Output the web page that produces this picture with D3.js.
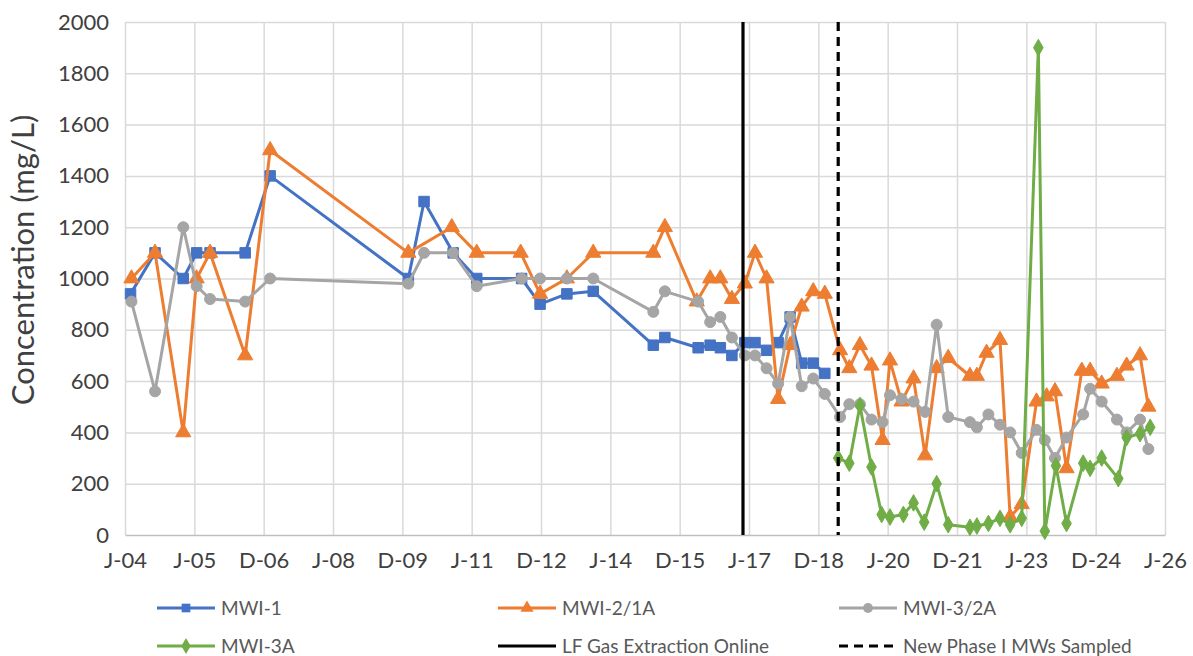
<!DOCTYPE html>
<html><head><meta charset="utf-8">
<script src="https://cdn.jsdelivr.net/npm/d3@7"></script>
<style>
body{margin:0;background:#fff;}
svg{display:block;font-family:Lato,'Open Sans',sans-serif;}
</style>
</head><body>
<svg id="chart" width="1193" height="656"></svg>
<script>
// ---- data ----
const tickLabels = ["J-04","J-05","D-06","J-08","D-09","J-11","D-12","J-14","D-15","J-17","D-18","J-20","D-21","J-23","D-24","J-26"];
const tickYears  = [2004,2005.5,2007,2008.5,2010,2011.5,2013,2014.5,2016,2017.5,2019,2020.5,2022,2023.5,2025,2026.5];
const yTicks = [0,200,400,600,800,1000,1200,1400,1600,1800,2000];

const mwi1 = [[2004.12,940],[2004.65,1100],[2005.26,1000],[2005.55,1100],[2005.84,1100],[2006.60,1100],[2007.14,1400],
  [2010.13,1000],[2010.47,1300],[2011.10,1100],[2011.61,1000],[2012.58,1000],[2012.98,900],[2013.56,940],[2014.13,950],
  [2015.43,740],[2015.68,770],[2016.40,730],[2016.66,740],[2016.88,730],[2017.13,700],[2017.41,750],[2017.63,750],
  [2017.88,720],[2018.13,750],[2018.39,850],[2018.64,670],[2018.89,670],[2019.14,630]];

const mwi2 = [[2004.14,1000],[2004.65,1100],[2005.26,400],[2005.55,1000],[2005.84,1100],[2006.60,700],[2007.14,1500],
  [2010.13,1100],[2011.07,1200],[2011.61,1100],[2012.56,1100],[2012.98,940],[2013.56,1000],[2014.13,1100],[2015.43,1100],
  [2015.68,1200],[2016.37,910],[2016.66,1000],[2016.88,1000],[2017.13,920],[2017.41,980],[2017.63,1100],[2017.88,1000],
  [2018.13,530],[2018.39,740],[2018.64,890],[2018.89,950],[2019.14,940],[2019.47,720],[2019.67,650],[2019.90,740],
  [2020.15,660],[2020.39,370],[2020.55,680],[2020.80,520],[2021.06,610],[2021.31,310],[2021.56,650],[2021.81,690],
  [2022.28,620],[2022.43,620],[2022.64,710],[2022.93,760],[2023.15,70],[2023.40,120],[2023.72,520],[2023.94,540],
  [2024.12,560],[2024.37,260],[2024.70,640],[2024.88,640],[2025.13,590],[2025.46,620],[2025.67,660],[2025.96,700],[2026.14,500]];

const mwi3 = [[2004.14,910],[2004.65,560],[2005.26,1200],[2005.55,970],[2005.84,920],[2006.60,910],[2007.14,1000],
  [2010.13,980],[2010.47,1100],[2011.10,1100],[2011.61,970],[2012.58,1000],[2012.98,1000],[2013.56,1000],[2014.13,1000],
  [2015.43,870],[2015.68,950],[2016.40,910],[2016.66,830],[2016.88,850],[2017.13,770],[2017.41,700],[2017.63,700],
  [2017.88,650],[2018.13,590],[2018.39,850],[2018.64,580],[2018.89,610],[2019.14,550],[2019.47,460],[2019.67,510],
  [2019.90,510],[2020.15,450],[2020.39,440],[2020.55,545],[2020.80,530],[2021.06,520],[2021.31,480],[2021.56,820],
  [2021.81,460],[2022.28,440],[2022.43,420],[2022.68,470],[2022.93,430],[2023.15,400],[2023.40,320],[2023.72,410],
  [2023.90,370],[2024.12,300],[2024.37,380],[2024.73,470],[2024.88,570],[2025.13,520],[2025.46,450],[2025.67,400],
  [2025.96,450],[2026.14,335]];

const mwi3a = [[2019.43,300],[2019.67,280],[2019.90,505],[2020.15,265],[2020.37,80],[2020.55,70],[2020.84,80],
  [2021.06,125],[2021.29,50],[2021.56,200],[2021.81,40],[2022.28,30],[2022.43,35],[2022.68,45],[2022.93,65],
  [2023.15,40],[2023.40,65],[2023.76,1900],[2023.90,15],[2024.14,270],[2024.37,45],[2024.73,280],[2024.88,260],
  [2025.13,300],[2025.49,220],[2025.67,380],[2025.96,395],[2026.18,420]];

const gasExtractionOnline = 2017.37;
const newPhaseSampled = 2019.43;

const series = [
  {name:"MWI-1", data:mwi1, color:"#4472C4", symbol:d3.symbolSquare, size:110},
  {name:"MWI-2/1A", data:mwi2, color:"#ED7D31", symbol:d3.symbolTriangle, size:100},
  {name:"MWI-3/2A", data:mwi3, color:"#A5A5A5", symbol:d3.symbolCircle, size:95},
  {name:"MWI-3A", data:mwi3a, color:"#70AD47", symbol:d3.symbolDiamond, size:80}
];
const events = [
  {name:"LF Gas Extraction Online", date:gasExtractionOnline, dash:null},
  {name:"New Phase I MWs Sampled", date:newPhaseSampled, dash:"9,6"}
];

// ---- layout ----
const svg = d3.select("#chart");
const L = 125, R = 1165, T = 22, B = 535;
const x = d3.scaleLinear().domain([2004, 2026.5]).range([L, R]);
const y = d3.scaleLinear().domain([0, 2000]).range([B, T]);

// gridlines
svg.append("g").attr("transform",`translate(0,${B})`)
  .call(d3.axisBottom(x).tickValues(tickYears).tickSize(-(B-T)).tickFormat(""))
  .call(g=>g.select(".domain").remove())
  .call(g=>g.selectAll("line").attr("stroke","#D9D9D9").attr("stroke-width",1.5));
svg.append("g").attr("transform",`translate(${L},0)`)
  .call(d3.axisLeft(y).tickValues(yTicks.slice(1)).tickSize(-(R-L)).tickFormat(""))
  .call(g=>g.select(".domain").remove())
  .call(g=>g.selectAll("line").attr("stroke","#D9D9D9").attr("stroke-width",1.5));

// x axis
svg.append("g").attr("transform",`translate(0,${B})`)
  .call(d3.axisBottom(x).tickValues(tickYears).tickSize(0).tickPadding(17).tickFormat((d,i)=>tickLabels[i]))
  .call(g=>g.select(".domain").attr("stroke","#BFBFBF").attr("stroke-width",1.5))
  .call(g=>g.selectAll("text").attr("font-size",22).attr("fill","#404040").attr("font-family","Lato"));

// y axis
svg.append("g").attr("transform",`translate(${L},0)`)
  .call(d3.axisLeft(y).tickValues(yTicks).tickSize(0).tickPadding(16).tickFormat(d3.format("d")))
  .call(g=>g.select(".domain").remove())
  .call(g=>g.selectAll("text").attr("font-size",22).attr("fill","#404040").attr("font-family","Lato"));

svg.append("text")
  .attr("transform",`translate(34,260) rotate(-90)`)
  .attr("text-anchor","middle").attr("font-size",31).attr("fill","#404040")
  .text("Concentration (mg/L)");

// series
const line = d3.line().x(d=>x(d[0])).y(d=>y(d[1]));
series.forEach(s=>{
  const g = svg.append("g");
  g.append("path").datum(s.data).attr("d",line)
    .attr("fill","none").attr("stroke",s.color).attr("stroke-width",3)
    .attr("stroke-linejoin","round");
  g.selectAll("path.m").data(s.data).join("path").attr("class","m")
    .attr("transform",d=>`translate(${x(d[0])},${y(d[1])})`)
    .attr("d",d3.symbol().type(s.symbol).size(s.size))
    .attr("fill",s.color).attr("stroke",s.color).attr("stroke-width",1);
});

// event lines
events.forEach(e=>{
  svg.append("line").attr("x1",x(e.date)).attr("x2",x(e.date))
    .attr("y1",y(2000)).attr("y2",y(0))
    .attr("stroke","#000").attr("stroke-width",3.2)
    .attr("stroke-dasharray",e.dash);
});

// legend
const legendItems = [
  ...series.map(s=>({name:s.name,color:s.color,symbol:s.symbol,dash:null})),
  ...events.map(e=>({name:e.name,color:"#000",symbol:null,dash:e.dash}))
];
const colX = [157, 498, 839], rowY = [608, 646];
legendItems.forEach((it,i)=>{
  const cx = colX[i%3], cy = rowY[Math.floor(i/3)];
  const g = svg.append("g").attr("transform",`translate(${cx},${cy})`);
  g.append("line").attr("x1",0).attr("x2",58).attr("y1",0).attr("y2",0)
    .attr("stroke",it.color).attr("stroke-width",3).attr("stroke-dasharray",it.dash ? "9,6" : null);
  if(it.symbol){
    g.append("path").attr("transform","translate(29,0)")
      .attr("d",d3.symbol().type(it.symbol).size(75)).attr("fill",it.color);
  }
  g.append("text").attr("x",64).attr("y",7).attr("font-size",19).attr("fill","#595959")
    .text(it.name);
});
</script>
</body></html>
